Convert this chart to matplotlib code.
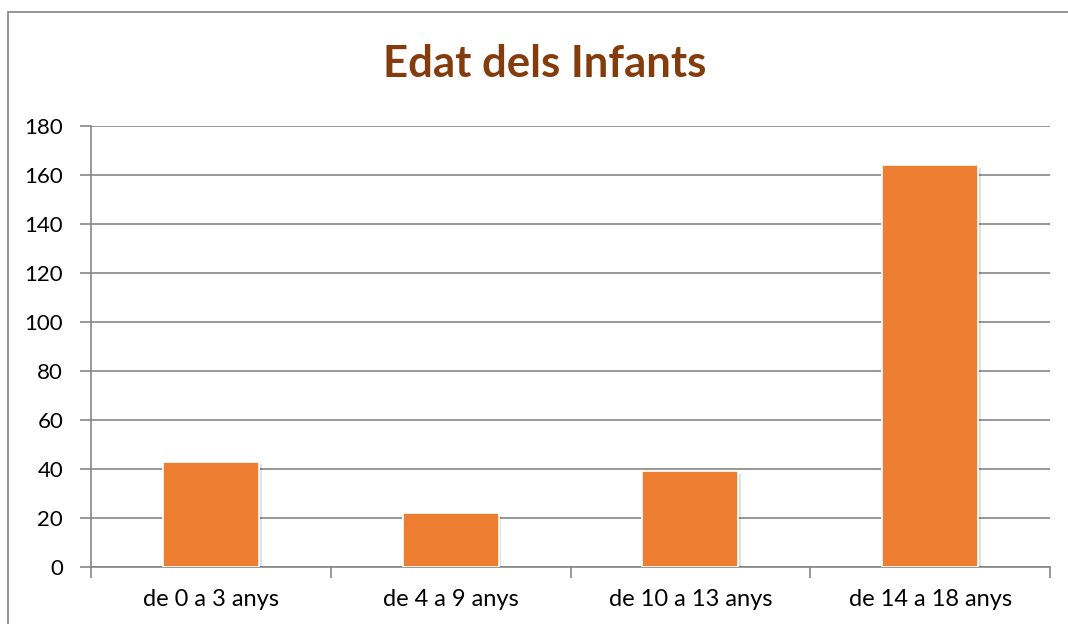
import matplotlib
matplotlib.use("Agg")
import matplotlib.pyplot as plt
from matplotlib.patches import Rectangle
import matplotlib.patheffects as pe
import numpy as np

# data
categories = ["de 0 a 3 anys", "de 4 a 9 anys", "de 10 a 13 anys", "de 14 a 18 anys"]
values = [43, 22, 39, 164]
y_ticks = list(range(0, 181, 20))

plt.rcParams['font.family'] = ['Lato', 'DejaVu Sans']

fig = plt.figure(figsize=(10.68, 6.24), dpi=100)
W, H = 1068, 624

# outer chart border (runs off the right and bottom edges)
fig.patches.append(Rectangle((8 / W, -0.1), 1.2, 1 - 12 / H + 0.1,
                             transform=fig.transFigure, fill=False,
                             edgecolor="#8c8c8c", linewidth=1.3))

ax = fig.add_axes([91 / W, 1 - 567 / H, (1050 - 91) / W, (567 - 126) / H])

x = np.arange(len(categories))
bars = ax.bar(x, values, width=0.4, color="#ED7D31", edgecolor="white",
              linewidth=1.2, zorder=3)
for b in bars:
    b.set_path_effects([pe.SimplePatchShadow(offset=(2, -2), shadow_rgbFace="#000000", alpha=0.12),
                        pe.Normal()])

ax.set_xlim(-0.5, len(categories) - 0.5)
ax.set_ylim(0, 180)
ax.set_yticks(y_ticks)
ax.set_xticks(x)
ax.set_xticklabels(categories, fontsize=17)
ax.set_xticks(np.arange(-0.5, len(categories), 1), minor=True)
ax.tick_params(axis="x", which="major", length=0, pad=16)
ax.tick_params(axis="x", which="minor", length=8, color="#868686", width=1.2)
ax.tick_params(axis="y", length=8, color="#868686", width=1.2, labelsize=16, pad=12)

ax.grid(axis="y", color="#868686", linewidth=1.2, zorder=0)
for s in ["top", "right"]:
    ax.spines[s].set_visible(False)
for s in ["left", "bottom"]:
    ax.spines[s].set_color("#868686")
    ax.spines[s].set_linewidth(1.2)

fig.text(545 / W, 1 - 64 / H, "Edat dels Infants", ha="center", va="center",
         fontsize=31.5, fontweight="bold", color="#843C0C")

fig.savefig("out.png", dpi=100)
